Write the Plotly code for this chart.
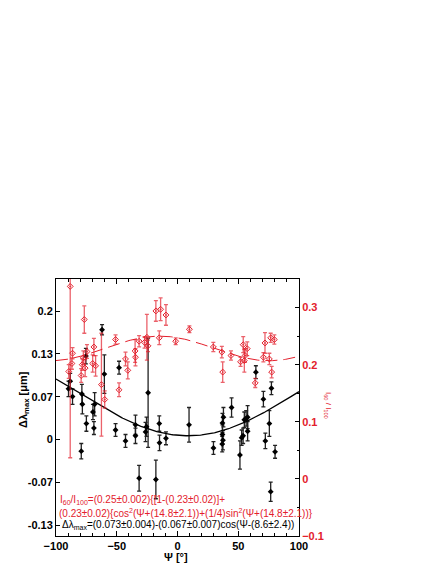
import plotly.graph_objects as go
import numpy as np

# black: delta lambda_max [um] vs Psi [deg]
psi_dl = [-89.7, -88.3, -86.4, -78.7, -78.3, -79.2, -75.4, -75.0, -69.6, -68.2,
          -68.8, -62.1, -60.2, -48.1, -51.0, -42.8, -34.6, -34.6, -31.6, -26.3,
          -25.5, -24.2, -17.8, -15.0, -14.8, -9.5, 9.5, 29.6, 37.0, 37.4,
          36.8, 37.8, 37.0, 44.5, 51.4, 52.8, 54.0, 55.0, 56.5, 57.7,
          57.7, 64.5, 70.7, 72.3, 75.6, 77.3, 80.3, 76.7]
dl = [0.079, 0.091, 0.067, 0.071, 0.055, -0.018, 0.130, 0.025, 0.043, 0.055,
      0.018, 0.171, 0.102, 0.112, 0.015, -0.002, 0.023, 0.006, -0.060, 0.012,
      0.020, 0.073, -0.062, 0.025, -0.005, 0.002, 0.023, -0.013, 0.008, -0.001,
      -0.007, 0.035, 0.026, 0.050, -0.024, 0.003, 0.006, 0.031, 0.033, 0.035,
      0.013, 0.105, 0.063, -0.002, 0.025, 0.080, -0.019, -0.081]
dl_err = [0.012, 0.012, 0.012, 0.015, 0.015, 0.012, 0.012, 0.012, 0.012, 0.018,
          0.010, 0.008, 0.030, 0.010, 0.010, 0.010, 0.015, 0.012, 0.020, 0.015,
          0.015, 0.085, 0.030, 0.012, 0.012, 0.010, 0.027, 0.010, 0.015, 0.015,
          0.012, 0.015, 0.015, 0.015, 0.022, 0.012, 0.012, 0.012, 0.012, 0.018,
          0.015, 0.010, 0.012, 0.012, 0.020, 0.010, 0.010, 0.015]

# red: I60/I100 vs Psi [deg]
psi_ir = [-88.3, -86.4, -86.9, -89.5, -76.7, -74.5, -76.0, -78.4, -79.3, -77.5,
          -68.8, -69.8, -67.4, -62.6, -59.9, -51.0, -48.1, -42.8, -40.9, -34.9,
          -34.6, -31.6, -27.1, -25.2, -24.3, -17.8, -13.9, -15.0, -9.5, -1.5,
          9.8, 29.5, 36.5, 37.2, 44.0, 51.9, 54.1, 57.4, 55.6, 55.0,
          64.0, 70.7, 72.0, 75.6, 76.7, 79.7, 77.5]
ir = [0.337, 0.220, 0.202, 0.188, 0.279, 0.223, 0.194, 0.200, 0.181, 0.212,
      0.231, 0.202, 0.198, 0.165, 0.139, 0.244, 0.156, 0.210, 0.190, 0.224,
      0.213, 0.241, 0.239, 0.248, 0.233, 0.294, 0.297, 0.247, 0.287, 0.241,
      0.262, 0.231, 0.222, 0.187, 0.216, 0.205, 0.235, 0.228, 0.216, 0.207,
      0.168, 0.213, 0.238, 0.210, 0.247, 0.244, 0.187]
ir_err = [0.300, 0.010, 0.010, 0.012, 0.024, 0.012, 0.015, 0.010, 0.012, 0.012,
          0.015, 0.015, 0.018, 0.090, 0.015, 0.008, 0.012, 0.012, 0.015, 0.020,
          0.015, 0.010, 0.010, 0.040, 0.010, 0.018, 0.020, 0.012, 0.018, 0.006,
          0.006, 0.008, 0.010, 0.018, 0.008, 0.008, 0.014, 0.012, 0.012, 0.020,
          0.008, 0.008, 0.018, 0.010, 0.008, 0.008, 0.010]

# fit parameters (from the formulas printed on the chart)
dl_a, dl_b, dl_phase = 0.073, 0.067, 8.6
ir_a, ir_b, ir_phase = 0.25, 0.23, 14.8

RED = "#e3202c"
psi_fit = np.linspace(-100, 100, 201)
rad = np.radians
dl_fit = dl_a - dl_b * np.cos(rad(psi_fit - dl_phase))
ir_fit = ir_a * ((1 - ir_b) + ir_b * (np.cos(rad(psi_fit + ir_phase)) ** 2
                                       + 0.25 * np.sin(rad(psi_fit + ir_phase)) ** 2))

fig = go.Figure()
fig.add_trace(go.Scatter(
    x=psi_ir, y=ir, yaxis="y2", mode="markers",
    marker=dict(symbol="diamond-open-dot", size=4.5, color=RED, line=dict(width=1)),
    error_y=dict(type="data", array=ir_err, color="rgba(227,32,44,0.7)",
                 thickness=1.3, width=2),
))
fig.add_trace(go.Scatter(
    x=psi_fit, y=ir_fit, yaxis="y2", mode="lines",
    line=dict(color=RED, width=1, dash="12px,6px"),
))
fig.add_trace(go.Scatter(
    x=psi_dl, y=dl, mode="markers",
    marker=dict(symbol="diamond", size=4.5, color="black"),
    error_y=dict(type="data", array=dl_err, color="#222", thickness=1.3, width=2),
))
fig.add_trace(go.Scatter(
    x=psi_fit, y=dl_fit, mode="lines", line=dict(color="black", width=1.3),
))

tick_font = dict(family="Liberation Sans, Arial", size=11, color="black")
fig.update_layout(
    width=436, height=564,
    margin=dict(l=48, r=145, t=271, b=36),
    paper_bgcolor="white", plot_bgcolor="white",
    showlegend=False,
    font=dict(family="Liberation Sans, Arial"),
    xaxis=dict(
        range=[-100, 100], tickvals=[-100, -50, 0, 50, 100],
        ticks="inside", ticklen=5, tickcolor="black",
        minor=dict(dtick=10, ticks="inside", ticklen=3, tickcolor="black"),
        showline=True, linecolor="black", linewidth=1, mirror="ticks",
        showgrid=False, zeroline=False,
        tickfont=dict(tick_font, weight="bold"),
    ),
    yaxis=dict(
        range=[-0.15, 0.25],
        tickvals=[-0.1333, -0.0667, 0, 0.0667, 0.1333, 0.2],
        ticktext=["-0.13", "-0.07", "0", "0.07", "0.13", "0.2"],
        ticks="inside", ticklen=4, tickcolor="black",
        showline=True, linecolor="black", linewidth=1,
        showgrid=False, zeroline=False,
        tickfont=dict(tick_font, weight="bold"),
    ),
    yaxis2=dict(
        range=[-0.1, 0.35], overlaying="y", side="right",
        tickvals=[-0.1, 0, 0.1, 0.2, 0.3],
        ticks="inside", ticklen=4, tickcolor="black",
        minor=dict(dtick=0.05, tick0=0, ticks="inside", ticklen=2, tickcolor="black"),
        showline=True, linecolor="black", linewidth=1,
        showgrid=False, zeroline=False,
        tickfont=dict(family="Liberation Sans, Arial", size=11, color=RED, weight="bold"),
    ),
)

ann_font = dict(family="Liberation Sans, Arial", size=10)
fig.add_annotation(
    xref="paper", yref="paper", x=0.008, y=0.141, xanchor="left", yanchor="middle",
    showarrow=False, font=dict(ann_font, color=RED),
    text="I<sub>60</sub>/I<sub>100</sub>=(0.25±0.002){[1-(0.23±0.02)]+",
)
fig.add_annotation(
    xref="paper", yref="paper", x=0.004, y=0.0895, xanchor="left", yanchor="middle",
    showarrow=False, font=dict(ann_font, color=RED),
    text="(0.23±0.02){cos<sup>2</sup>(Ψ+(14.8±2.1))+(1/4)sin<sup>2</sup>(Ψ+(14.8±2.1))}",
)
fig.add_annotation(
    xref="paper", yref="paper", x=0.016, y=0.0416, xanchor="left", yanchor="middle",
    showarrow=False, font=dict(ann_font, color="black"),
    text="Δλ<sub>max</sub>=(0.073±0.004)-(0.067±0.007)cos(Ψ-(8.6±2.4))",
)
# axis titles
fig.add_annotation(
    xref="paper", yref="paper", x=-0.169, y=0.533, textangle=-90,
    showarrow=False, font=dict(family="Liberation Sans, Arial", size=11,
                               color="black", weight="bold"),
    text="Δλ<sub>max</sub> [μm]",
)
fig.add_annotation(
    xref="paper", yref="paper", x=1.148, y=0.506, textangle=90,
    showarrow=False, font=dict(family="Liberation Sans, Arial", size=8, color=RED),
    text="I<sub>60</sub> / I<sub>100</sub>",
)
fig.add_annotation(
    xref="paper", yref="paper", x=0.494, y=-0.113,
    showarrow=False, font=dict(family="Liberation Sans, Arial", size=11,
                               color="black", weight="bold"),
    text="Ψ [°]",
)

fig.write_html("out.html")
